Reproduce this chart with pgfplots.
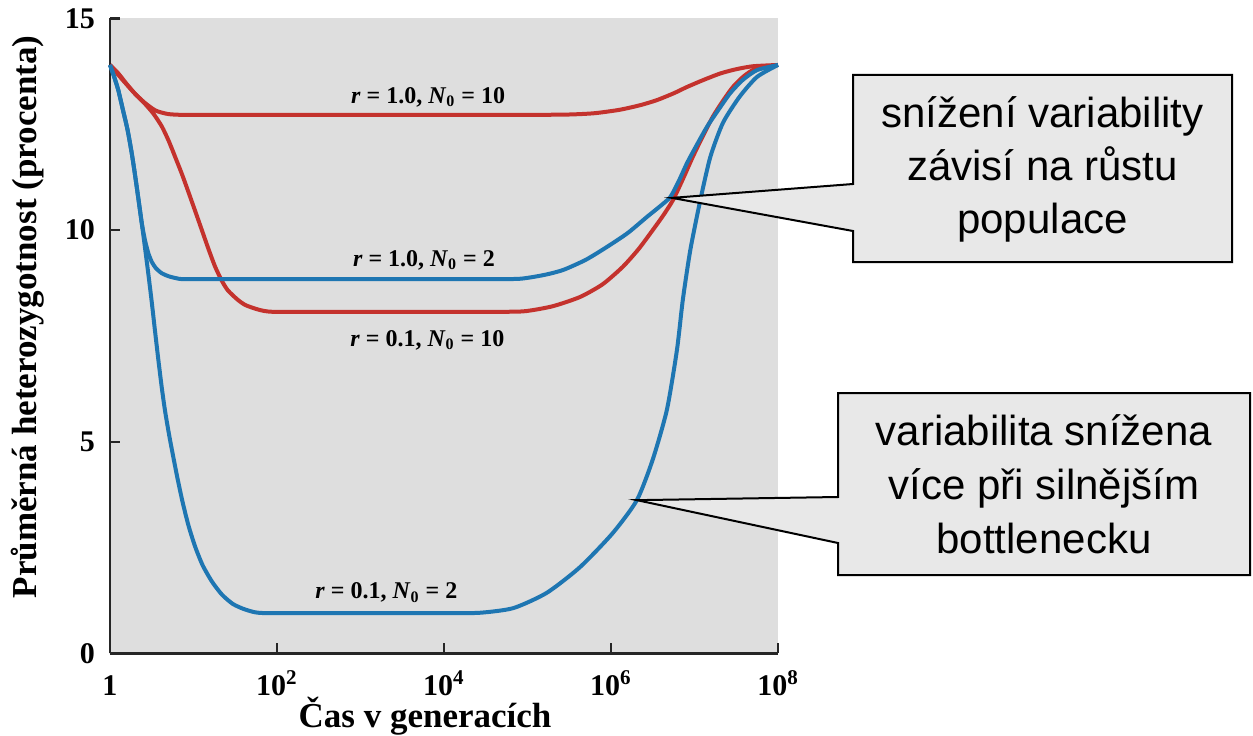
\documentclass[border=0pt]{standalone}
\usepackage{fontspec}
\setmainfont{Liberation Serif}
\newfontfamily\arial{Liberation Sans}
\usepackage{pgfplots}
\usepackage{pgfplotstable}
\pgfplotsset{compat=1.18}
\definecolor{cred}{RGB}{196,50,45}
\definecolor{cblue}{RGB}{30,118,178}
\definecolor{bggray}{RGB}{222,222,222}
\definecolor{boxgray}{RGB}{232,232,232}

% x = log10(time in generations), y = heterozygosity (%)
\pgfplotstableread{
x y
0.00 13.90
0.10 13.70
0.20 13.45
0.30 13.22
0.42 13.00
0.55 12.82
0.70 12.74
0.90 12.72
1.40 12.72
2.00 12.72
2.60 12.72
3.20 12.72
3.80 12.72
4.40 12.72
5.00 12.72
5.50 12.73
5.80 12.76
6.10 12.84
6.35 12.95
6.55 13.07
6.75 13.23
6.91 13.38
7.10 13.54
7.31 13.70
7.50 13.80
7.70 13.87
8.00 13.90
}\redtop

\pgfplotstableread{
x y
0.00 13.90
0.15 13.55
0.30 13.22
0.42 12.98
0.52 12.75
0.62 12.45
0.70 12.12
0.78 11.73
0.86 11.33
0.93 10.95
1.02 10.45
1.10 10.00
1.18 9.55
1.26 9.13
1.34 8.80
1.41 8.58
1.52 8.37
1.62 8.23
1.78 8.12
1.94 8.07
2.50 8.07
3.00 8.07
3.50 8.07
4.00 8.07
4.50 8.07
4.95 8.08
5.30 8.20
5.63 8.42
5.90 8.72
6.14 9.13
6.33 9.55
6.50 10.00
6.62 10.33
6.74 10.70
6.86 11.20
6.98 11.73
7.10 12.22
7.22 12.68
7.34 13.05
7.46 13.38
7.60 13.65
7.75 13.83
8.00 13.90
}\redbot

\pgfplotstableread{
x y
0.00 13.90
0.05 13.62
0.10 13.30
0.15 12.88
0.21 12.37
0.26 11.82
0.30 11.30
0.34 10.74
0.38 10.17
0.42 9.75
0.46 9.45
0.50 9.25
0.55 9.10
0.62 8.98
0.70 8.91
0.80 8.86
0.90 8.84
1.50 8.84
2.00 8.84
2.50 8.84
3.00 8.84
3.50 8.84
4.00 8.84
4.50 8.84
4.91 8.85
5.20 8.94
5.43 9.06
5.70 9.30
5.95 9.60
6.20 9.93
6.43 10.31
6.58 10.55
6.71 10.78
6.81 11.15
6.91 11.58
7.03 12.02
7.15 12.44
7.29 12.85
7.43 13.24
7.58 13.55
7.75 13.78
8.00 13.90
}\bluetop

\pgfplotstableread{
x y
0.00 13.90
0.05 13.62
0.10 13.30
0.15 12.88
0.21 12.37
0.26 11.82
0.30 11.30
0.34 10.74
0.38 10.17
0.42 9.57
0.46 8.95
0.50 8.30
0.54 7.60
0.58 6.92
0.62 6.28
0.66 5.72
0.71 5.14
0.76 4.62
0.81 4.12
0.87 3.57
0.94 3.02
1.02 2.52
1.11 2.08
1.22 1.70
1.34 1.39
1.47 1.17
1.60 1.05
1.74 0.97
1.90 0.95
2.50 0.95
3.00 0.95
3.50 0.95
4.00 0.95
4.43 0.96
4.83 1.07
5.23 1.43
5.63 2.04
6.02 2.84
6.31 3.62
6.50 4.58
6.67 5.76
6.79 7.17
6.86 8.35
6.95 9.53
7.07 10.71
7.19 11.73
7.34 12.53
7.54 13.15
7.75 13.62
8.00 13.90
}\bluebot

\begin{document}
\begin{tikzpicture}
\begin{axis}[
  at={(0,0)}, anchor=south west,
  scale only axis, width=334pt, height=317.5pt,
  xmin=0, xmax=8, ymin=0, ymax=15,
  axis x line*=bottom, axis y line*=left,
  axis line style={line width=1.1pt, color=black!85},
  axis background/.style={fill=bggray},
  xtick={0,2,4,6,8},
  xticklabels={1,10\textsuperscript{2},10\textsuperscript{4},10\textsuperscript{6},10\textsuperscript{8}},
  ytick={0,5,10,15},
  tick align=inside, major tick length=5pt,
  tick style={line width=1.1pt, color=black!85},
  /pgf/number format/assume math mode=true,
  ticklabel style={font=\fontsize{15}{17}\selectfont\bfseries},
  xticklabel style={anchor=base, yshift=-21pt, inner sep=0pt},
  yticklabel style={xshift=-4pt},
  xlabel={Čas v generacích},
  ylabel={Průměrná heterozygotnost (procenta)},
  xlabel style={font=\fontsize{17.5}{20}\selectfont\bfseries, inner sep=0pt, at={(axis description cs:0.4716,-0.1165)}, anchor=base},
  ylabel style={font=\fontsize{17.5}{20}\selectfont\bfseries, at={(axis description cs:-0.1228,0.53)}, anchor=center},
  clip=false,
]
\addplot[cred, line width=2pt, smooth, tension=0.4] table {\redtop};
\addplot[cred, line width=2pt, smooth, tension=0.4] table {\redbot};
\addplot[cblue, line width=2pt, smooth, tension=0.4] table {\bluetop};
\addplot[cblue, line width=2pt, smooth, tension=0.4] table {\bluebot};

\node[font=\fontsize{12}{14}\selectfont\bfseries] at (axis cs:3.81,13.14) {\textit{r} = 1.0, \textit{N}\textsubscript{0} = 10};
\node[font=\fontsize{12}{14}\selectfont\bfseries] at (axis cs:3.76,9.29) {\textit{r} = 1.0, \textit{N}\textsubscript{0} = 2};
\node[font=\fontsize{12}{14}\selectfont\bfseries] at (axis cs:3.80,7.40) {\textit{r} = 0.1, \textit{N}\textsubscript{0} = 10};
\node[font=\fontsize{12}{14}\selectfont\bfseries] at (axis cs:3.31,1.43) {\textit{r} = 0.1, \textit{N}\textsubscript{0} = 2};

\coordinate (tip1) at (axis cs:6.73,10.76);
\coordinate (tip2) at (axis cs:6.31,3.62);
\end{axis}

\draw[line width=1pt, fill=boxgray, line join=miter]
  (371.5pt,289.2pt) -- (561pt,289.2pt) -- (561pt,195.7pt) -- (371.5pt,195.7pt)
  -- (371.5pt,211.2pt) -- (tip1) -- (371.5pt,234.7pt) -- cycle;
\node[align=center, font=\arial\fontsize{21}{26.5}\selectfont] at (466.25pt,242pt)
  {snížení variability\\závisí na růstu\\populace};

\draw[line width=1pt, fill=boxgray, line join=miter]
  (364pt,130.2pt) -- (570pt,130.2pt) -- (570pt,39.2pt) -- (364pt,39.2pt)
  -- (364pt,55.2pt) -- (tip2) -- (364pt,78.2pt) -- cycle;
\node[align=center, font=\arial\fontsize{21}{27}\selectfont] at (467pt,84.7pt)
  {variabilita snížena\\více při silnějším\\bottlenecku};

\pgfresetboundingbox
\useasboundingbox (-55pt,-41pt) rectangle (571.5pt,326.7pt);
\end{tikzpicture}
\end{document}
